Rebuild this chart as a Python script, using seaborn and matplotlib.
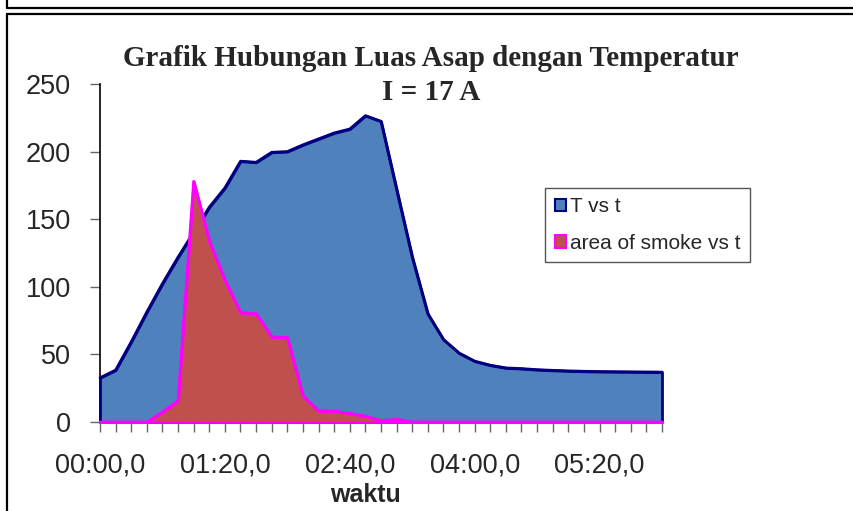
import matplotlib
matplotlib.use("Agg")
import matplotlib.pyplot as plt
import seaborn as sns
import pandas as pd
from matplotlib.patches import Patch
from matplotlib.lines import Line2D
from matplotlib.ticker import MultipleLocator, FuncFormatter

# ---- data ----
time_s = [0, 10, 20, 30, 40, 50, 60, 70, 80, 90, 100, 110, 120, 130, 140, 150,
          160, 170, 180, 190, 200, 210, 220, 230, 240, 250, 260, 270, 280, 290,
          300, 310, 320, 330, 340, 350, 360]
temperature = [32.7, 38.4, 59.3, 81.4, 102.4, 122.0, 140.4, 158.9, 173.2, 192.9,
               192.1, 199.5, 200.0, 205.0, 209.4, 213.8, 216.7, 226.6, 222.4, 172.0,
               122.0, 80.0, 61.0, 51.0, 45.0, 42.0, 40.0, 39.5, 38.7, 38.2,
               37.8, 37.5, 37.3, 37.2, 37.1, 37.0, 36.9]
smoke_area = [0, 0, 0, 0, 7.4, 15.7, 178.0, 134.0, 105.0, 81.0,
              80.2, 63.0, 62.5, 19.4, 8.3, 8.1, 6.3, 4.4, 1.0, 2.0,
              0, 0, 0, 0, 0, 0, 0, 0, 0, 0,
              0, 0, 0, 0, 0, 0, 0]
series_labels = ["T vs t", "area of smoke vs t"]
title_line1 = "Grafik Hubungan Luas Asap dengan Temperatur"
title_line2 = "I = 17 A"
x_label = "waktu"

df = pd.DataFrame({"t": time_s, "T": temperature, "smoke": smoke_area})

sns.set_style("white")
plt.rcParams["font.family"] = ["Liberation Sans", "DejaVu Sans"]

W, H = 854, 511
fig = plt.figure(figsize=(W / 100, H / 100), dpi=100)
ax = fig.add_axes([100 / W, 1 - 422 / H, 562 / W, 338 / H])

T_FILL, T_EDGE = "#4F81BD", "#000080"
S_FILL, S_EDGE = "#C0504D", "#FF00FF"

ax.fill_between(df["t"], df["T"], 0, facecolor=T_FILL, edgecolor=T_EDGE,
                linewidth=2, zorder=2, clip_on=False)
sns.lineplot(data=df, x="t", y="T", color=T_EDGE, linewidth=2, ax=ax,
             zorder=3, clip_on=False)
ax.fill_between(df["t"], df["smoke"], 0, facecolor=S_FILL, edgecolor=S_EDGE,
                linewidth=2, zorder=4, clip_on=False)
sns.lineplot(data=df, x="t", y="smoke", color=S_EDGE, linewidth=2, ax=ax,
             zorder=5, clip_on=False)

ax.set_xlim(0, 360)
ax.set_ylim(0, 250)
ax.set_xlabel("")
ax.set_ylabel("")
ax.xaxis.set_major_locator(MultipleLocator(80))
ax.xaxis.set_minor_locator(MultipleLocator(10))
ax.xaxis.set_major_formatter(FuncFormatter(
    lambda v, p: f"{int(v) // 60:02d}:{int(v) % 60:02d},0"))
ax.yaxis.set_major_locator(MultipleLocator(50))

ax.tick_params(axis="x", which="both", direction="out", length=7, width=1,
               color="#666666", bottom=True)
ax.tick_params(axis="x", which="major", pad=15, labelsize=19.5)
ax.tick_params(axis="y", which="major", direction="out", length=7, width=1,
               color="#666666", left=True, pad=14, labelsize=19.5)

for s in ["top", "right"]:
    ax.spines[s].set_visible(False)
ax.spines["left"].set_color("black")
ax.spines["left"].set_linewidth(1.2)
ax.spines["bottom"].set_color("#333333")
ax.spines["bottom"].set_linewidth(1.2)
ax.spines["left"].set_zorder(1)
ax.spines["bottom"].set_zorder(1)
ax.set_facecolor("white")

# titles
fig.text(431 / W, 1 - 66 / H, title_line1, ha="center", va="baseline",
         family=["Liberation Serif", "DejaVu Serif"], fontweight="bold", fontsize=21)
fig.text(431 / W, 1 - 100 / H, title_line2, ha="center", va="baseline",
         family=["Liberation Serif", "DejaVu Serif"], fontweight="bold", fontsize=21)
fig.text(365 / W, 1 - 502 / H, x_label, ha="center", va="baseline",
         fontweight="bold", fontsize=18)

# legend
handles = [Patch(facecolor=T_FILL, edgecolor=T_EDGE, linewidth=1.5, label=series_labels[0]),
           Patch(facecolor=S_FILL, edgecolor=S_EDGE, linewidth=1.5, label=series_labels[1])]
leg = ax.legend(handles=handles, loc="upper left",
                bbox_to_anchor=(545.5 / W, 1 - 188 / H), bbox_transform=fig.transFigure,
                fontsize=15, frameon=True, fancybox=False, framealpha=1,
                edgecolor="#555555", handlelength=0.55, handleheight=0.55,
                handletextpad=0.2, borderpad=0.45, labelspacing=0.85,
                borderaxespad=0)
leg.get_frame().set_linewidth(1)

# outer frames
def fline(xs, ys, lw=1.6):
    fig.add_artist(Line2D([x / W for x in xs], [1 - y / H for y in ys],
                          transform=fig.transFigure, color="black", linewidth=lw))

fline([7, 854], [8, 8])
fline([7, 7], [0, 8])
fline([7, 854], [14, 14])
fline([7, 7], [14, 511])

fig.savefig("out.png", dpi=100)
